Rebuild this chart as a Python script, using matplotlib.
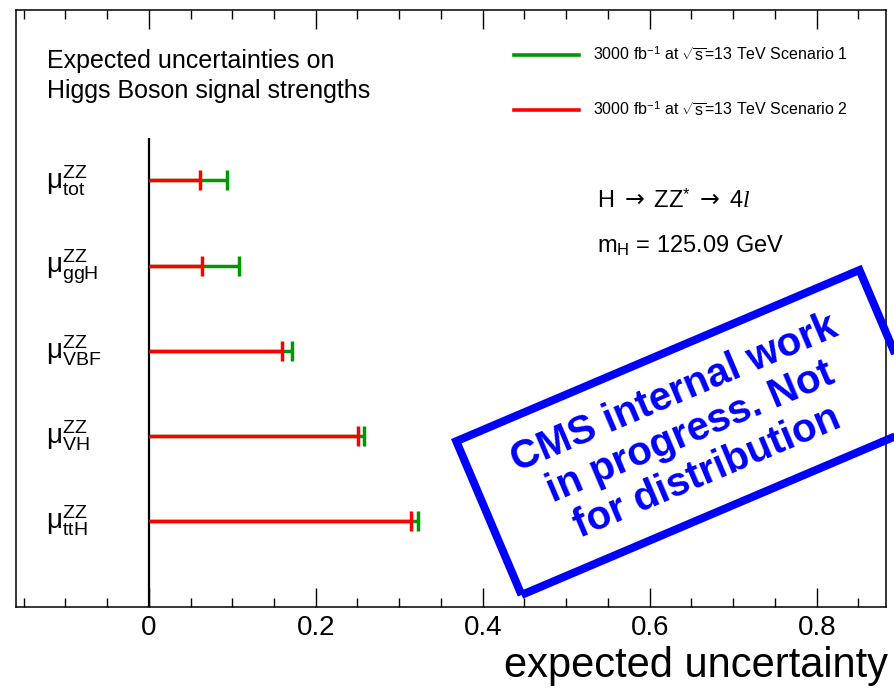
import matplotlib
matplotlib.use("Agg")
import matplotlib.pyplot as plt
from matplotlib.lines import Line2D
from matplotlib.patches import Rectangle
from matplotlib.ticker import MultipleLocator
import matplotlib.transforms as mtransforms

# Datos
canales = ['tot', 'ggH', 'VBF', 'VH', 'ttH']
escenario1 = [0.094, 0.108, 0.171, 0.258, 0.322]   # verde
escenario2 = [0.061, 0.064, 0.159, 0.251, 0.314]   # rojo
etiquetas_x = ['0', '0.2', '0.4', '0.6', '0.8']
valores_x = [0.0, 0.2, 0.4, 0.6, 0.8]

plt.rcParams['font.family'] = ['Liberation Sans', 'DejaVu Sans']
plt.rcParams['mathtext.fontset'] = 'custom'
plt.rcParams['mathtext.rm'] = 'Liberation Sans'
plt.rcParams['mathtext.it'] = 'Liberation Serif:italic'
plt.rcParams['mathtext.bf'] = 'Liberation Sans:bold'
plt.rcParams['mathtext.sf'] = 'DejaVu Sans'

W, H = 894, 690
fig = plt.figure(figsize=(W / 100, H / 100), dpi=100)
# posicion de los ejes en pixeles: izq 16, der 885.6, arriba 10, abajo 606.7
ax = fig.add_axes([16 / W, (H - 606.7) / H, (885.6 - 16) / W, (606.7 - 10) / H])

verde = '#009900'
rojo = '#ff0000'

n = len(canales)
posiciones = [n - i for i in range(n)]  # tot arriba

ax.vlines(0, 0, n + 0.5, color='black', lw=1.6, zorder=2)

for y, v1, v2 in zip(posiciones, escenario1, escenario2):
    ax.plot([0, v1], [y, y], color=verde, lw=2.5, solid_capstyle='butt', zorder=3)
    ax.plot([v1], [y], marker='|', ms=15, mew=2.5, color=verde, zorder=3)
    ax.plot([0, v2], [y, y], color=rojo, lw=2.5, solid_capstyle='butt', zorder=4)
    ax.plot([v2], [y], marker='|', ms=15, mew=2.5, color=rojo, zorder=4)

ax.set_xlim(-0.159, 0.8825)
ax.set_ylim(0, 7)

# etiquetas de cada canal
trans = mtransforms.blended_transform_factory(ax.transAxes, ax.transData)
for y, c in zip(posiciones, canales):
    ax.text(0.034, y, r'$\mathrm{\mu}^{\mathrm{ZZ}}_{\mathrm{%s}}$' % c, transform=trans,
            fontsize=20, va='center', ha='left')

# ejes
ax.set_xticks(valores_x)
ax.set_xticklabels(etiquetas_x)
ax.xaxis.set_minor_locator(MultipleLocator(0.05))
ax.tick_params(axis='x', which='both', direction='in', top=True, bottom=True,
               labelsize=20, pad=6, width=1)
ax.tick_params(axis='x', which='major', length=13.5)
ax.tick_params(axis='x', which='minor', length=6.5)
ax.tick_params(axis='y', which='both', left=False, right=False, labelleft=False)
for s in ax.spines.values():
    s.set_linewidth(1.1)

ax.set_xlabel('expected uncertainty', fontsize=30, ha='right')
ax.xaxis.label.set_va('baseline')
ax.xaxis.set_label_coords(1.0028, (606.7 - 677) / 596.7)

# textos
ax.text(0.0356, 0.903, 'Expected uncertainties on', transform=ax.transAxes,
        fontsize=18, va='baseline', ha='left')
ax.text(0.0356, 0.8526, 'Higgs Boson signal strengths', transform=ax.transAxes,
        fontsize=18, va='baseline', ha='left')
ax.text(0.668, 0.668,
        r'H $\mathsf{\rightarrow}$ ZZ$^{*}$ $\mathsf{\rightarrow}$ 4$\mathit{l}$',
        transform=ax.transAxes, fontsize=17, va='baseline', ha='left')
ax.text(0.668, 0.593, r'm$_{\mathrm{H}}$ = 125.09 GeV',
        transform=ax.transAxes, fontsize=17, va='baseline', ha='left')

# leyenda
manejadores = [Line2D([], [], color=verde, lw=2.6),
               Line2D([], [], color=rojo, lw=2.6)]
textos = [r'3000 fb$^{-1}$ at $\sqrt{\mathrm{s}}$=13 TeV Scenario 1',
          r'3000 fb$^{-1}$ at $\sqrt{\mathrm{s}}$=13 TeV Scenario 2']
ax.legend(manejadores, textos, loc='upper left',
          bbox_to_anchor=((514 - 16) / 869.6, (606.7 - 46) / 596.7),
          frameon=False, fontsize=11.5, handlelength=4.07, handletextpad=0.87,
          labelspacing=2.3, borderpad=0, borderaxespad=0)

# marca de agua
ov = fig.add_axes([0, 0, 1, 1], facecolor='none')
ov.set_xlim(0, W)
ov.set_ylim(0, H)
ov.axis('off')
ov.add_patch(Rectangle((690.5 - 219, 257.5 - 83.5), 438, 167, angle=23,
                       rotation_point='center', fill=False, ec='#0000ff', lw=5.8,
                       clip_on=False))
ov.text(690.5, 257.5, 'CMS internal work\nin progress. Not\nfor distribution',
        rotation=23, rotation_mode='anchor', ha='center', va='center',
        multialignment='center', color='#0000ff', fontsize=29, fontweight='bold',
        linespacing=1.15)

fig.savefig('out.png', dpi=100)
